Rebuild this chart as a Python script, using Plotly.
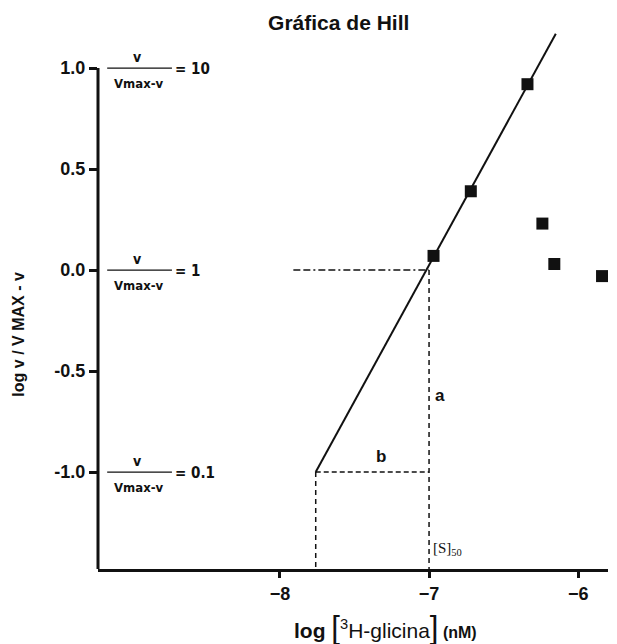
import plotly.graph_objects as go

# Hill plot data: log[3H-glicina] vs log(v / (Vmax - v))
log_conc = [-6.97, -6.72, -6.34, -6.24, -6.16, -5.84]
log_ratio = [0.07, 0.39, 0.92, 0.23, 0.03, -0.03]

# fitted Hill line (end points)
fit_x = [-7.76, -6.15]
fit_y = [-1.0, 1.17]

# construction lines for S50 and slope (a / b)
s50_x = -7.0
b_start_x = -7.76
half_guide_start_x = -7.91

x_ticks = [-8, -7, -6]
y_ticks = [1.0, 0.5, 0.0, -0.5, -1.0]
y_tick_text = ["1.0", "0.5", "0.0", "-0.5", "-1.0"]

# ratio labels v/(Vmax-v) at log levels
ratio_levels = [1.0, 0.0, -1.0]
ratio_text = ["10", "1", "0.1"]

X_RANGE = [-9.22, -5.80]
Y_RANGE = [-1.48, 1.218]

FONT = "Liberation Sans, Arial, sans-serif"
NARROW = "Liberation Sans Narrow, DejaVu Sans Condensed, Arial Narrow, sans-serif"
INK = "#111111"

fig = go.Figure()

# fitted line
fig.add_trace(go.Scatter(x=fit_x, y=fit_y, mode="lines",
                         line=dict(color=INK, width=2), hoverinfo="skip"))

# guide: y = 0 to the fitted line (dash-dot)
fig.add_trace(go.Scatter(x=[half_guide_start_x, s50_x], y=[0, 0], mode="lines",
                         line=dict(color=INK, width=1.5, dash="7px,3px,7px,3px,2px,3px"),
                         hoverinfo="skip"))
# vertical guide at S50 down to the x axis
fig.add_trace(go.Scatter(x=[s50_x, s50_x], y=[0, Y_RANGE[0]], mode="lines",
                         line=dict(color=INK, width=1.5, dash="5px,4px"), hoverinfo="skip"))
# horizontal guide 'b' at y = -1
fig.add_trace(go.Scatter(x=[b_start_x, s50_x], y=[-1, -1], mode="lines",
                         line=dict(color=INK, width=1.5, dash="5px,3px"), hoverinfo="skip"))
# vertical guide from the start of 'b' down to the x axis
fig.add_trace(go.Scatter(x=[b_start_x, b_start_x], y=[-1, Y_RANGE[0]], mode="lines",
                         line=dict(color=INK, width=1.5, dash="5px,4px"), hoverinfo="skip"))

# data points
fig.add_trace(go.Scatter(x=log_conc, y=log_ratio, mode="markers",
                         marker=dict(symbol="square", size=12, color=INK),
                         hoverinfo="skip"))

shapes = [
    # y axis line from bottom to 1.0
    dict(type="line", xref="paper", yref="y", x0=0, x1=0,
         y0=Y_RANGE[0], y1=1.0, line=dict(color=INK, width=3)),
]

annotations = []
for lvl, txt in zip(ratio_levels, ratio_text):
    shapes.append(dict(type="line", xref="paper", yref="y", x0=0.018, x1=0.145,
                       y0=lvl, y1=lvl, line=dict(color=INK, width=1.2)))
    annotations.append(dict(xref="paper", yref="y", x=0, y=lvl, xshift=39, yshift=11,
                            text="<b>v</b>", showarrow=False, xanchor="center",
                            yanchor="middle", font=dict(family=NARROW, size=14, color=INK)))
    annotations.append(dict(xref="paper", yref="y", x=0, y=lvl, xshift=41, yshift=-15,
                            text="<b>Vmax-v</b>", showarrow=False, xanchor="center",
                            yanchor="middle", font=dict(family=NARROW, size=13, color=INK)))
    annotations.append(dict(xref="paper", yref="y", x=0, y=lvl, xshift=75, yshift=-1,
                            text="<b>= " + txt + "</b>", showarrow=False, xanchor="left",
                            yanchor="middle", font=dict(family=NARROW, size=15, color=INK)))

annotations += [
    dict(xref="x", yref="y", x=-6.926, y=-0.62, text="<b>a</b>", showarrow=False,
         font=dict(family=FONT, size=17, color=INK)),
    dict(xref="x", yref="y", x=-7.32, y=-0.925, text="<b>b</b>", showarrow=False,
         font=dict(family=FONT, size=17, color=INK)),
    dict(xref="x", yref="y", x=-6.99, y=-1.38, xanchor="left",
         text="[S]<sub>50</sub>", showarrow=False,
         font=dict(family="Liberation Serif, serif", size=15, color=INK)),
    # x axis title
    dict(xref="paper", yref="paper", x=0.563, y=-0.108, xanchor="center", yanchor="middle",
         text="<b>log </b><span style='font-size:31px'>[</span><sup>3</sup>H-glicina"
              "<span style='font-size:31px'>]</span><b><span style='font-size:16px'> (nM)</span></b>",
         showarrow=False, font=dict(family=FONT, size=21, color=INK)),
    # y axis title
    dict(xref="paper", yref="paper", x=0, y=0.43, xshift=-79, textangle=-90,
         xanchor="center", yanchor="middle", text="<b>log v / V MAX - v</b>",
         showarrow=False, font=dict(family=FONT, size=16, color=INK)),
]

fig.update_layout(
    width=617, height=644,
    margin=dict(l=98, r=9, t=24, b=75),
    paper_bgcolor="white", plot_bgcolor="white",
    showlegend=False,
    title=dict(text="<b>Gráfica de Hill</b>", x=0.549, xanchor="center",
               y=1 - 23 / 644, yanchor="middle",
               font=dict(family=FONT, size=21, color=INK)),
    xaxis=dict(range=X_RANGE, tickvals=x_ticks, ticks="outside", ticklen=6, tickwidth=3,
               tickcolor=INK, showline=True, linewidth=3, linecolor=INK,
               showgrid=False, zeroline=False,
               tickfont=dict(family=FONT, size=18, color=INK, weight="bold")),
    yaxis=dict(range=Y_RANGE, tickvals=y_ticks, ticktext=y_tick_text, ticks="outside",
               ticklen=8, tickwidth=3, tickcolor=INK, showline=False,
               showgrid=False, zeroline=False,
               tickfont=dict(family=FONT, size=18, color=INK, weight="bold")),
    shapes=shapes,
    annotations=annotations,
)

fig.write_html("out.html")
